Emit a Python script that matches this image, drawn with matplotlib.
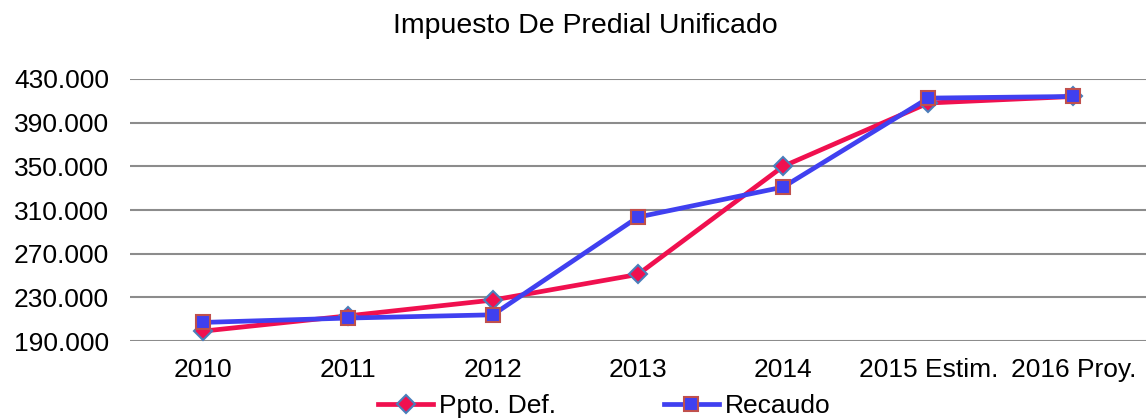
import matplotlib
matplotlib.use("Agg")
import matplotlib.pyplot as plt
from matplotlib.ticker import FuncFormatter

plt.rcParams['font.family'] = ['Liberation Sans', 'DejaVu Sans']

categories = ["2010", "2011", "2012", "2013", "2014", "2015 Estim.", "2016 Proy."]
ppto_def = [199000, 213000, 227500, 251000, 350000, 408000, 414000]
recaudo = [207000, 211000, 214000, 303500, 331000, 412500, 414000]
yticks = [190000, 230000, 270000, 310000, 350000, 390000, 430000]

fig = plt.figure(figsize=(11.46, 4.19), dpi=100)
ax = fig.add_axes([130/1146, 1 - 341/419, (1146 - 130)/1146, (341 - 79)/419])

x = list(range(len(categories)))
ax.plot(x, ppto_def, color='#F0104F', linewidth=3.4, marker='D', markersize=9,
        markerfacecolor='#F0104F', markeredgecolor='#4A7EBB', markeredgewidth=1.5,
        label='Ppto. Def.', zorder=3)
ax.plot(x, recaudo, color='#4040F0', linewidth=3.4, marker='s', markersize=10.5,
        markerfacecolor='#4040F0', markeredgecolor='#C0504D', markeredgewidth=1.5,
        label='Recaudo', zorder=4)

ax.set_xlim(-0.5, len(categories) - 0.5)
ax.set_ylim(190000, 430000)
ax.set_yticks(yticks)
ax.yaxis.set_major_formatter(FuncFormatter(lambda v, p: f"{int(v):,}".replace(",", ".")))
ax.set_xticks(x)
ax.set_xticklabels(categories)
ax.grid(axis='y', color='#8C8C8C', linewidth=1.5)
ax.set_axisbelow(True)
for s in ax.spines.values():
    s.set_visible(False)
ax.tick_params(axis='both', length=0, labelsize=19)
ax.tick_params(axis='y', pad=15)
ax.tick_params(axis='x', pad=12)

fig.text(585/1146, 1 - 26/419, "Impuesto De Predial Unificado", fontsize=20.5,
         ha='center', va='center')
fig.legend(loc='center', bbox_to_anchor=(604/1146, 1 - 406/419), ncol=2, frameon=False,
           fontsize=19, handlelength=2.1, handletextpad=0.2, columnspacing=4.1,
           borderaxespad=0, borderpad=0)

fig.savefig("out.png", dpi=100)
